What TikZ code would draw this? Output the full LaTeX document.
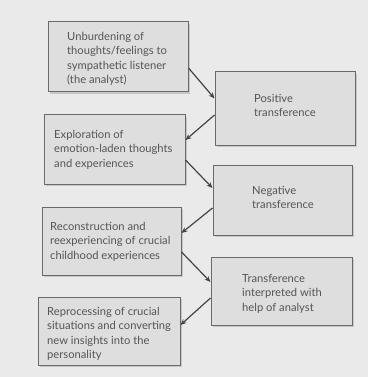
\documentclass[tikz,border=0pt]{standalone}
\usepackage{fontspec}
\setmainfont{Lato}
\usetikzlibrary{arrows.meta,calc}
\definecolor{paper}{HTML}{EAEAEA}
\definecolor{boxfill}{HTML}{DEDEDE}
\definecolor{boxline}{HTML}{6A6A6A}
\definecolor{ink}{HTML}{555555}
\definecolor{arrowc}{HTML}{444444}
\tikzset{
  stage/.style={draw=boxline, line width=1pt, fill=boxfill, inner sep=0pt},
  shadowbox/.style={fill=black!22, draw=none},
  label/.style={anchor=north west, align=left, inner sep=0pt, text=ink,
    font=\fontsize{11.2}{14.5}\selectfont},
  flow/.style={draw=arrowc, line width=1.2pt, -{Stealth[length=6pt,width=5pt]}}
}
\begin{document}
\begin{tikzpicture}[x=1pt,y=-1pt]
\fill[paper] (0,0) rectangle (368,377);
\useasboundingbox (0,0) rectangle (368,377);
% shadows
\foreach \a/\b/\c/\d in {48/22/188/92, 215/72/355/145, 44/115/185/184, 213/165/352/235, 42/207/181/275, 211/257/352/325, 38/297/180/365}{
  \fill[shadowbox] (\a+2,\b+2) rectangle (\c+2,\d+2);
}
% boxes
\node[stage, minimum width=140pt, minimum height=70pt] (b1) at (118,57) {};
\node[stage, minimum width=140pt, minimum height=73pt] (p1) at (285,108.5) {};
\node[stage, minimum width=141pt, minimum height=69pt] (b2) at (114.5,149.5) {};
\node[stage, minimum width=139pt, minimum height=70pt] (p2) at (282.5,200) {};
\node[stage, minimum width=139pt, minimum height=68pt] (b3) at (111.5,241) {};
\node[stage, minimum width=141pt, minimum height=68pt] (p3) at (281.5,291) {};
\node[stage, minimum width=142pt, minimum height=68pt] (b4) at (109,331) {};
% texts (first baseline minus 8pt)
\node[label] (t1) at (67,32) {Unburdening of\\thoughts/feelings to\\sympathetic listener\\(the analyst)};
\node[label] (u1) at (254,94) {Positive\\transference};
\node[label] (t2) at (54,130) {Exploration of\\emotion-laden thoughts\\and experiences};
\node[label] (u2) at (252,186) {Negative\\transference};
\node[label] (t3) at (50,222) {Reconstruction and\\reexperiencing of crucial\\childhood experiences};
\node[label] (u3) at (242,274) {Transference\\interpreted with\\help of analyst};
\node[label] (t4) at (47,307) {Reprocessing of crucial\\situations and converting\\new insights into the\\personality};
% arrows
\draw[flow] ([yshift=-11pt]b1.east) -- ([yshift=10pt]p1.west);
\draw[flow] ([yshift=-6.5pt]p1.west) -- ([yshift=9.5pt]b2.east);
\draw[flow] ([yshift=-10.5pt]b2.east) -- ([yshift=12pt]p2.west);
\draw[flow] ([yshift=-8pt]p2.west) -- ([yshift=8pt]b3.east);
\draw[flow] ([yshift=-11pt]b3.east) -- ([yshift=9pt]p3.west);
\draw[flow] ([yshift=-7pt]p3.west) -- ([yshift=6pt]b4.east);
\end{tikzpicture}
\end{document}
